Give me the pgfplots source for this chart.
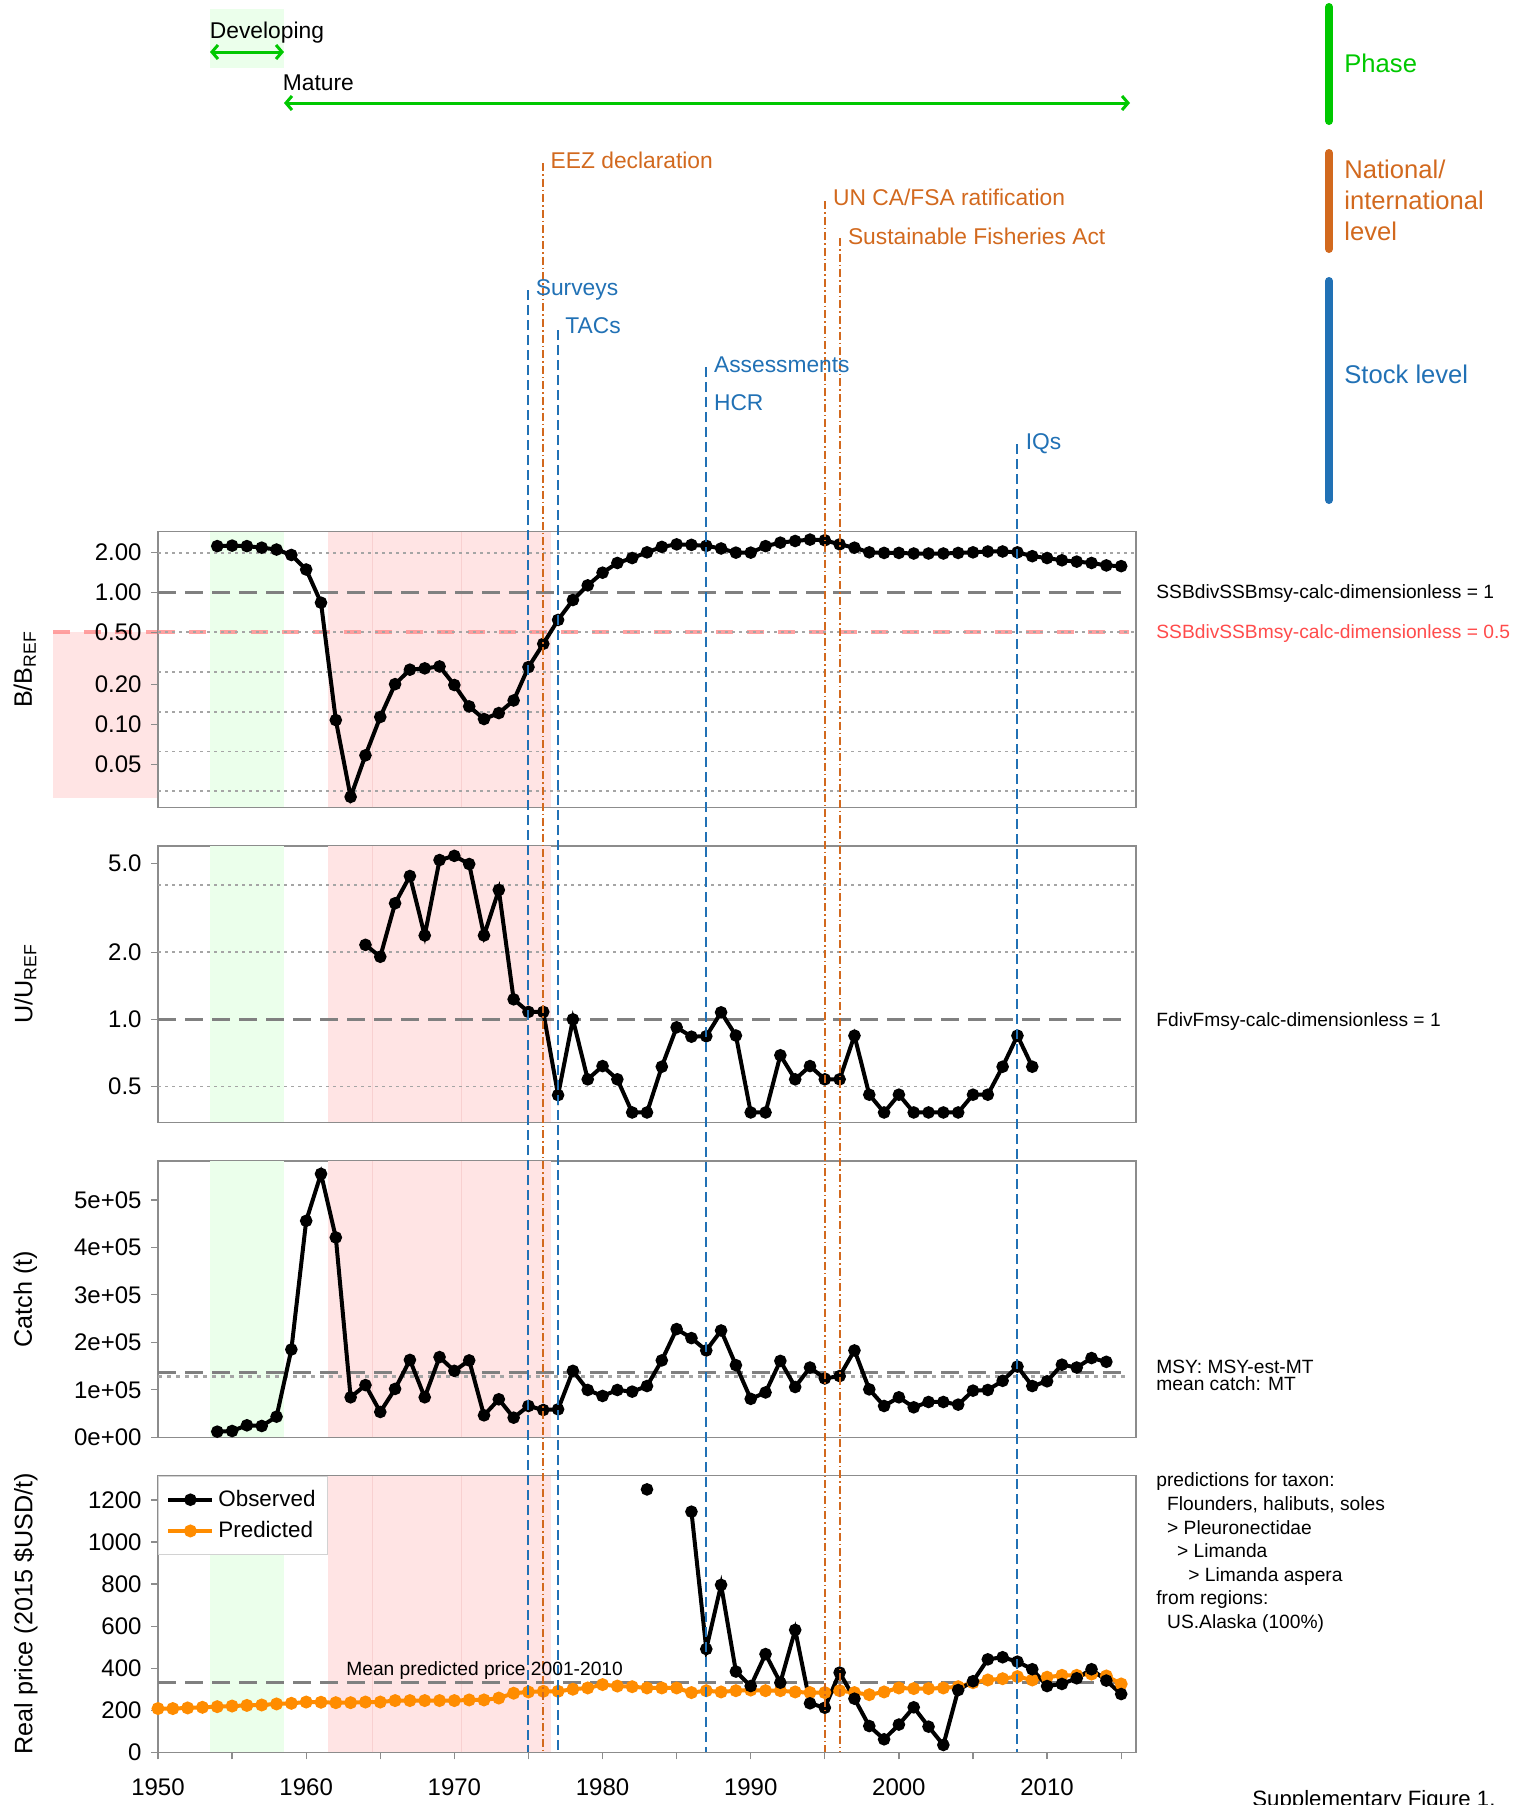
\documentclass[border=0pt]{standalone}
\usepackage{pgfplots}
\pgfplotsset{compat=1.18}
\usepackage{fontspec}
\setmainfont{Liberation Sans}
\usetikzlibrary{arrows.meta}

\definecolor{evblue}{RGB}{33,113,181}
\definecolor{evorange}{RGB}{210,105,30}
\definecolor{phgreen}{RGB}{0,200,0}
\definecolor{bandgreen}{RGB}{235,255,235}
\definecolor{bandpink}{RGB}{255,228,228}
\definecolor{bandline}{RGB}{248,208,208}
\definecolor{predorange}{RGB}{255,140,0}
\definecolor{refgray}{RGB}{128,128,128}
\definecolor{gridgray}{RGB}{165,165,165}
\definecolor{axgray}{RGB}{140,140,140}
\definecolor{redtxt}{RGB}{255,75,75}
\definecolor{pinkline}{RGB}{255,145,145}

\newcommand{\fs}[1]{\fontsize{#1pt}{#1pt}\selectfont}
\newcommand{\X}[1]{158+(#1-1950)*14.818}

\pgfplotsset{
  panel/.style={
    scale only axis, width=489pt, anchor=south west,
    xmin=1950, xmax=2016,
    axis line style={axgray, line width=0.6pt},
    tick style={axgray, line width=0.6pt},
    major tick length=3.5pt,
    tick align=outside,
    xtick=\empty,
    ytick pos=left,
    yticklabel style={font=\fs{12}, text=black, xshift=-1.2pt},
    clip=false,
  },
  obs/.style={black, line width=2pt, mark=*, mark size=2.1pt, mark options={solid}},
  pred/.style={predorange, line width=2pt, mark=*, mark size=2.2pt, mark options={solid}},
  mygrid/.style={gridgray, line width=0.9pt, dash pattern=on 1.5pt off 2pt, forget plot},
  refl/.style={refgray, line width=1.7pt, dash pattern=on 9pt off 4.5pt, forget plot},
}

\newcommand{\bands}{%
  \fill[bandgreen] ({axis cs:1953.5,1}|-{rel axis cs:0,0}) rectangle ({axis cs:1958.5,1}|-{rel axis cs:0,1});
  \fill[bandpink] ({axis cs:1961.5,1}|-{rel axis cs:0,0}) rectangle ({axis cs:1976.5,1}|-{rel axis cs:0,1});
  \draw[bandline, line width=0.5pt] ({axis cs:1964.5,1}|-{rel axis cs:0,0}) -- ({axis cs:1964.5,1}|-{rel axis cs:0,1});
  \draw[bandline, line width=0.5pt] ({axis cs:1970.5,1}|-{rel axis cs:0,0}) -- ({axis cs:1970.5,1}|-{rel axis cs:0,1});
}

\pgfplotstableread{
year b
1954 2.24
1955 2.26
1956 2.24
1957 2.18
1958 2.11
1959 1.92
1960 1.49
1961 0.836
1962 0.108
1963 0.0283
1964 0.0584
1965 0.114
1966 0.202
1967 0.260
1968 0.266
1969 0.275
1970 0.199
1971 0.137
1972 0.110
1973 0.122
1974 0.152
1975 0.272
1976 0.408
1977 0.619
1978 0.876
1979 1.13
1980 1.41
1981 1.67
1982 1.82
1983 2.01
1984 2.21
1985 2.31
1986 2.29
1987 2.25
1988 2.15
1989 2.00
1990 2.00
1991 2.24
1992 2.38
1993 2.45
1994 2.51
1995 2.48
1996 2.31
1997 2.18
1998 2.01
1999 1.99
2000 1.99
2001 1.97
2002 1.97
2003 1.97
2004 1.99
2005 2.01
2006 2.04
2007 2.04
2008 2.01
2009 1.88
2010 1.82
2011 1.75
2012 1.71
2013 1.67
2014 1.60
2015 1.58
}\bdata

\pgfplotstableread{
year u
1964 2.16
1965 1.91
1966 3.32
1967 4.40
1968 2.38
1969 5.19
1970 5.42
1971 4.98
1972 2.38
1973 3.81
1974 1.23
1975 1.08
1976 1.08
1977 0.457
1978 1.00
1979 0.538
1980 0.617
1981 0.538
1982 0.382
1983 0.382
1984 0.613
1985 0.921
1986 0.836
1987 0.840
1988 1.075
1989 0.846
1990 0.382
1991 0.382
1992 0.690
1993 0.538
1994 0.617
1995 0.538
1996 0.538
1997 0.845
1998 0.459
1999 0.382
2000 0.459
2001 0.382
2002 0.382
2003 0.382
2004 0.382
2005 0.459
2006 0.459
2007 0.613
2008 0.845
2009 0.613
}\udata

\pgfplotstableread{
year c
1954 11900
1955 13300
1956 25300
1957 23900
1958 43500
1959 185000
1960 456000
1961 555000
1962 421000
1963 84300
1964 110000
1965 53400
1966 102000
1967 163000
1968 84300
1969 169000
1970 140000
1971 162000
1972 46300
1973 80100
1974 41400
1975 66000
1976 57600
1977 59000
1978 140000
1979 99700
1980 87100
1981 99700
1982 96200
1983 108000
1984 162000
1985 228000
1986 209000
1987 183000
1988 225000
1989 152000
1990 81000
1991 94500
1992 161000
1993 106000
1994 147000
1995 124000
1996 129000
1997 183000
1998 101000
1999 66000
2000 84300
2001 63200
2002 74400
2003 74400
2004 68800
2005 98300
2006 99700
2007 119000
2008 149000
2009 108000
2010 118000
2011 153000
2012 147000
2013 167000
2014 159000
}\cdata

\pgfplotstableread{
year p
1950 208
1951 208
1952 211
1953 214
1954 217
1955 220
1956 223
1957 225
1958 230
1959 233
1960 239
1961 238
1962 236
1963 236
1964 239
1965 239
1966 246
1967 246
1968 246
1969 246
1970 246
1971 249
1972 249
1973 258
1974 281
1975 287
1976 290
1977 290
1978 300
1979 306
1980 322
1981 315
1982 312
1983 306
1984 306
1985 306
1986 284
1987 293
1988 287
1989 293
1990 296
1991 293
1992 293
1993 287
1994 284
1995 284
1996 293
1997 284
1998 274
1999 287
2000 306
2001 303
2002 303
2003 306
2004 312
2005 331
2006 344
2007 350
2008 360
2009 344
2010 357
2011 366
2012 366
2013 372
2014 363
2015 325
}\pdata

\pgfplotstableread{
year o
1983 1250
1984 nan
1986 1144
1987 491
1988 796
1989 384
1990 315
1991 467
1992 331
1993 582
1994 233
1995 212
1996 379
1997 255
1998 125
1999 62
2000 132
2001 214
2002 122
2003 35
2004 296
2005 338
2006 442
2007 452
2008 431
2009 395
2010 315
2011 325
2012 352
2013 395
2014 341
2015 277
}\odata

\begin{document}
\begin{tikzpicture}
\useasboundingbox (0,0) rectangle (763pt,-902.5pt);

% margin shading left of panel 1 (behind tick labels)
\begin{scope}[x=0.5pt,y=-0.5pt]
\fill[bandpink] (53,632.3) rectangle (158,797.7);
\draw[pinkline, opacity=0.85, line width=2pt, dash pattern=on 8.5pt off 7pt] (53,632.3) -- (158,632.3);
\end{scope}

% ---------------- Panel 1: B/BREF ----------------
\begin{axis}[panel, at={(79pt,-403.65pt)}, height=137.8pt,
  ymode=log, ymin=0.0236, ymax=2.88,
  ytick={0.05,0.1,0.2,0.5,1,2},
  yticklabels={0.05,0.10,0.20,0.50,1.00,2.00}]
\bands
\addplot[pinkline, opacity=0.85, line width=2pt, dash pattern=on 8.5pt off 7pt, forget plot] coordinates {(1950,0.5) (2015.5,0.5)};
\addplot[mygrid] coordinates {(1950,2) (2016,2)};
\addplot[mygrid] coordinates {(1950,0.5) (2016,0.5)};
\addplot[mygrid] coordinates {(1950,0.25) (2016,0.25)};
\addplot[mygrid] coordinates {(1950,0.125) (2016,0.125)};
\addplot[mygrid] coordinates {(1950,0.0625) (2016,0.0625)};
\addplot[mygrid] coordinates {(1950,0.03125) (2016,0.03125)};
\addplot[refl] coordinates {(1950,1) (2015.5,1)};
\addplot[obs] table[x=year,y=b] {\bdata};
\end{axis}

% ---------------- Panel 2: U/UREF ----------------
\begin{axis}[panel, at={(79pt,-561.15pt)}, height=138.15pt,
  ymode=log, ymin=0.345, ymax=6.0,
  ytick={0.5,1,2,5},
  yticklabels={0.5,1.0,2.0,5.0}]
\bands
\addplot[mygrid] coordinates {(1950,4) (2016,4)};
\addplot[mygrid] coordinates {(1950,2) (2016,2)};
\addplot[mygrid] coordinates {(1950,0.5) (2016,0.5)};
\addplot[refl] coordinates {(1950,1) (2015.5,1)};
\addplot[obs] table[x=year,y=u] {\udata};
\end{axis}

% ---------------- Panel 3: Catch ----------------
\begin{axis}[panel, at={(79pt,-718.65pt)}, height=138.15pt,
  ymin=0, ymax=582000, scaled y ticks=false,
  ytick={0,100000,200000,300000,400000,500000},
  yticklabels={0e+00,1e+05,2e+05,3e+05,4e+05,5e+05}]
\bands
\addplot[mygrid, line width=1.5pt, dash pattern=on 2pt off 2.5pt] coordinates {(1950,127800) (2015.5,127800)};
\addplot[refl] coordinates {(1950,136200) (2015.5,136200)};
\addplot[obs] table[x=year,y=c] {\cdata};
\end{axis}

% ---------------- Panel 4: Price ----------------
\begin{axis}[panel, at={(79pt,-876.15pt)}, height=138.3pt,
  ymin=0, ymax=1315,
  ytick={0,200,400,600,800,1000,1200},
  yticklabels={0,200,400,600,800,1000,1200},
  xtick={1950,1955,...,2015},
  xticklabels={1950,,1960,,1970,,1980,,1990,,2000,,2010,},
  xtick pos=bottom,
  xticklabel style={font=\fs{12}, text=black, yshift=-6pt},
  unbounded coords=jump,
  legend cell align=left,
  legend style={at={(0,1)}, anchor=north west, draw=gray!35, fill=white,
    font=\fs{11.2}, inner xsep=4pt, inner ysep=5pt, row sep=2pt,
    /tikz/every even column/.append style={column sep=8pt}},
  legend image code/.code={\draw[mark repeat=2,mark phase=2,#1] plot coordinates {(0pt,0pt) (11pt,0pt) (22pt,0pt)};}]
\bands
\addlegendimage{obs}\addlegendentry{Observed}
\addlegendimage{pred}\addlegendentry{Predicted}
\addplot[refl] coordinates {(1950,331) (2015.5,331)};
\addplot[pred, forget plot] table[x=year,y=p] {\pdata};
\addplot[obs, forget plot] table[x=year,y=o] {\odata};
\end{axis}

% ---------------- annotations (px units) ----------------
\begin{scope}[x=0.5pt,y=-0.5pt]
% Phase
\fill[bandgreen] (209.5,9) rectangle (284,67.7);
\node[anchor=base west, inner sep=0, font=\fs{11.4}] at (209.5,38.5) {Developing};
\draw[phgreen, line width=1.5pt, {Straight Barb[length=3pt,width=7pt]}-{Straight Barb[length=3pt,width=7pt]}] (210,52) -- (284,52);
\node[anchor=base west, inner sep=0, font=\fs{11.4}] at (282.5,90.7) {Mature};
\draw[phgreen, line width=1.5pt, {Straight Barb[length=3pt,width=7pt]}-{Straight Barb[length=3pt,width=7pt]}] (284,103) -- (1130,103);

% right bars
\draw[phgreen, line width=4pt, line cap=round] (1329,7) -- (1329,121);
\node[anchor=base west, inner sep=0, font=\fs{12.8}, text=phgreen] at (1344,72.7) {Phase};
\draw[evorange, line width=4pt, line cap=round] (1329,153) -- (1329,249);
\node[anchor=base west, inner sep=0, font=\fs{12.8}, text=evorange] at (1344,178) {National/};
\node[anchor=base west, inner sep=0, font=\fs{12.8}, text=evorange] at (1344,209.3) {international};
\node[anchor=base west, inner sep=0, font=\fs{12.8}, text=evorange] at (1344,240) {level};
\draw[evblue, line width=4pt, line cap=round] (1329,281) -- (1329,500);
\node[anchor=base west, inner sep=0, font=\fs{12.8}, text=evblue] at (1344,383) {Stock level};

% event lines
\tikzset{evb/.style={evblue, line width=1pt, dash pattern=on 5pt off 2.5pt},
         evo/.style={evorange, line width=0.9pt, dash pattern=on 4pt off 1.5pt on 0.8pt off 1.5pt}}
\draw[evb] ({\X{1975}},290) -- ({\X{1975}},1752.3);
\draw[evo] ({\X{1976}},163) -- ({\X{1976}},1752.3);
\draw[evb] ({\X{1977}},330) -- ({\X{1977}},1752.3);
\draw[evb] ({\X{1987}},367) -- ({\X{1987}},1752.3);
\draw[evo] ({\X{1995}},201) -- ({\X{1995}},1752.3);
\draw[evo] ({\X{1996}},238) -- ({\X{1996}},1752.3);
\draw[evb] ({\X{2008}},444) -- ({\X{2008}},1752.3);

\node[anchor=base west, inner sep=0, font=\fs{11.4}, text=evorange] at ({\X{1976}+7},168) {EEZ declaration};
\node[anchor=base west, inner sep=0, font=\fs{11.4}, text=evorange] at ({\X{1995}+8},205.7) {UN CA/FSA ratification};
\node[anchor=base west, inner sep=0, font=\fs{11.4}, text=evorange] at ({\X{1996}+8},244) {Sustainable Fisheries Act};
\node[anchor=base west, inner sep=0, font=\fs{11.4}, text=evblue] at ({\X{1975}+7},295.7) {Surveys};
\node[anchor=base west, inner sep=0, font=\fs{11.4}, text=evblue] at ({\X{1977}+7},333) {TACs};
\node[anchor=base west, inner sep=0, font=\fs{11.4}, text=evblue] at ({\X{1987}+7.4},372) {Assessments};
\node[anchor=base west, inner sep=0, font=\fs{11.4}, text=evblue] at ({\X{1987}+7.4},410) {HCR};
\node[anchor=base west, inner sep=0, font=\fs{11.4}, text=evblue] at ({\X{2008}+8},449) {IQs};

% y labels
\node[rotate=90, anchor=base, inner sep=0, font=\fs{12.6}] at (32,669.5) {B/B\textsubscript{REF}};
\node[rotate=90, anchor=base, inner sep=0, font=\fs{12.6}] at (32.5,984) {U/U\textsubscript{REF}};
\node[rotate=90, anchor=base, inner sep=0, font=\fs{12.6}] at (32,1299) {Catch (t)};
\node[rotate=90, anchor=base, inner sep=0, font=\fs{12.6}] at (32.5,1614) {Real price (2015 \$USD/t)};

% right-side texts
\node[anchor=base west, inner sep=0, font=\fs{9.6}] at (1156,598.5) {SSBdivSSBmsy-calc-dimensionless = 1};
\node[anchor=base west, inner sep=0, font=\fs{9.6}, text=redtxt] at (1156,638.5) {SSBdivSSBmsy-calc-dimensionless = 0.5};
\node[anchor=base west, inner sep=0, font=\fs{9.6}] at (1156,1026.7) {FdivFmsy-calc-dimensionless = 1};
\node[anchor=base west, inner sep=0, font=\fs{9.6}] at (1156,1373) {MSY: MSY-est-MT};
\node[anchor=base west, inner sep=0, font=\fs{9.6}] at (1156,1390.7) {mean catch: MT};
\node[anchor=base west, inner sep=0, font=\fs{9.6}] at (1156,1486.7) {predictions for taxon:};
\node[anchor=base west, inner sep=0, font=\fs{9.6}] at (1166.8,1510.7) {Flounders, halibuts, soles};
\node[anchor=base west, inner sep=0, font=\fs{9.6}] at (1166.8,1534) {> Pleuronectidae};
\node[anchor=base west, inner sep=0, font=\fs{9.6}] at (1176.8,1557.7) {> Limanda};
\node[anchor=base west, inner sep=0, font=\fs{9.6}] at (1187.9,1581.7) {> Limanda aspera};
\node[anchor=base west, inner sep=0, font=\fs{9.6}] at (1156,1604.3) {from regions:};
\node[anchor=base west, inner sep=0, font=\fs{9.6}] at (1166.8,1628.3) {US.Alaska (100\%)};
\node[anchor=base west, inner sep=0, font=\fs{9.6}] at (346,1675) {Mean predicted price 2001-2010};
\node[anchor=base west, inner sep=0, font=\fs{11.1}] at (1252,1806) {Supplementary Figure 1.};
\end{scope}
\end{tikzpicture}
\end{document}
